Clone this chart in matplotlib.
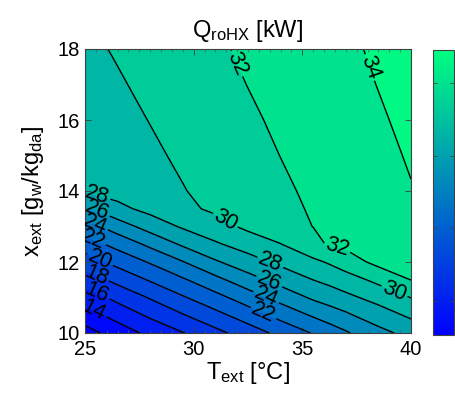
import numpy as np
import matplotlib
matplotlib.use("Agg")
import matplotlib.pyplot as plt
from matplotlib.colors import Normalize
from matplotlib.cm import ScalarMappable
from matplotlib.ticker import MultipleLocator

plt.rcParams['font.family'] = ['Liberation Sans', 'DejaVu Sans']
plt.rcParams['mathtext.default'] = 'regular'

# External temperature [°C] (columns) and humidity ratio [g_w/kg_da] (rows)
T_ext = [25, 26.5, 28, 29.5, 31, 32.5, 34, 35.5, 36.25, 37, 38.5, 40]
x_ext = [10, 11, 11.5, 12, 12.5, 13, 13.5, 14, 15, 16, 17, 18]

# Q_roHX [kW], one list per T_ext value (bottom -> top in x_ext)
Q_T25    = [11.21, 14.90, 16.94, 19.00, 21.02, 23.11, 25.62, 28.07, 28.53, 28.92, 29.28, 29.62]
Q_T26_5  = [12.90, 16.56, 18.58, 20.63, 22.65, 25.00, 27.48, 28.73, 29.12, 29.48, 29.83, 30.16]
Q_T28    = [14.51, 18.16, 20.20, 22.18, 24.45, 26.83, 28.59, 29.33, 29.70, 30.05, 30.38, 30.69]
Q_T29_5  = [15.91, 19.80, 21.76, 23.91, 26.29, 28.24, 29.55, 29.92, 30.28, 30.61, 30.93, 31.23]
Q_T31    = [17.42, 21.36, 23.45, 25.76, 27.76, 29.21, 30.35, 30.52, 30.86, 31.18, 31.48, 31.76]
Q_T32_5  = [18.96, 23.00, 25.21, 27.22, 28.83, 30.43, 30.96, 31.12, 31.44, 31.74, 32.03, 32.27]
Q_T34    = [20.55, 24.71, 26.74, 28.42, 29.94, 31.40, 31.56, 31.72, 32.02, 32.28, 32.53, 32.76]
Q_T35_5  = [22.13, 26.31, 28.02, 29.56, 31.57, 32.02, 32.16, 32.29, 32.55, 32.80, 33.03, 33.25]
Q_T36_25 = [22.96, 26.92, 28.55, 30.22, 32.16, 32.30, 32.43, 32.56, 32.82, 33.06, 33.28, 33.50]
Q_T37    = [23.76, 27.52, 29.15, 31.02, 32.44, 32.58, 32.71, 32.84, 33.08, 33.31, 33.53, 33.74]
Q_T38_5  = [25.39, 28.69, 30.50, 32.56, 33.02, 33.14, 33.26, 33.38, 33.61, 33.83, 34.04, 34.22]
Q_T40    = [26.66, 30.04, 32.04, 33.47, 33.59, 33.70, 33.82, 33.93, 34.14, 34.34, 34.53, 34.71]

Q_columns = [Q_T25, Q_T26_5, Q_T28, Q_T29_5, Q_T31, Q_T32_5, Q_T34,
             Q_T35_5, Q_T36_25, Q_T37, Q_T38_5, Q_T40]

contour_levels = [12, 14, 16, 18, 20, 22, 24, 26, 28, 30, 32, 34]
x_ticks = [25, 30, 35, 40]
y_ticks = [10, 12, 14, 16, 18]
cbar_ticks = [14, 20, 26, 32]

# where the contour labels sit (T, x)
label_spots = {
    14: [(25.37, 10.59)],
    16: [(25.55, 11.13)],
    18: [(25.46, 11.55)],
    20: [(25.69, 12.06)],
    22: [(25.37, 12.63), (33.28, 10.65)],
    24: [(25.46, 13.06), (33.42, 11.13)],
    26: [(25.55, 13.45), (33.6, 11.63)],
    28: [(25.6, 13.97), (33.6, 12.11)],
    30: [(31.3, 13.01), (39.17, 11.07)],
    32: [(32.04, 17.6), (36.6, 12.39)],
    34: [(38.02, 17.46)],
}

Z = np.array(Q_columns).T
TT, XX = np.meshgrid(T_ext, x_ext)

W, H = 455, 401
fig = plt.figure(figsize=(W / 100, H / 100), dpi=100)
ax = fig.add_axes([85 / W, (H - 333) / H, 326 / W, 284 / H])

cmap = plt.get_cmap('winter')
vmin, vmax = Z.min(), Z.max()
norm = Normalize(vmin=vmin, vmax=vmax)
fill_levels = [min(10, vmin)] + contour_levels + [max(36, vmax)]
band_colors = [cmap(norm(max(lo, vmin))) for lo in fill_levels[:-1]]

ax.contourf(TT, XX, Z, levels=fill_levels, colors=band_colors)

ax.set_xlim(25, 40)
ax.set_ylim(10, 18)

for lvl in contour_levels:
    cs = ax.contour(TT, XX, Z, levels=[lvl], colors='k', linewidths=1.0)
    spots = label_spots.get(lvl)
    if spots:
        ax.clabel(cs, manual=spots, inline=True, inline_spacing=2,
                  fontsize=15.5, fmt='%d')

ax.set_xlim(25, 40)
ax.set_ylim(10, 18)
ax.set_xticks(x_ticks)
ax.set_yticks(y_ticks)
ax.xaxis.set_minor_locator(MultipleLocator(0.5))
ax.tick_params(which='major', direction='in', top=True, right=True, length=4,
               width=0.6, labelsize=14.5, color='0.25')
ax.tick_params(axis='x', which='major', pad=5)
ax.tick_params(axis='y', which='major', pad=4)
ax.tick_params(which='minor', direction='in', top=True, bottom=True, length=2,
               width=0.5, color='0.35')
for s in ax.spines.values():
    s.set_color('0.25')
    s.set_linewidth(0.8)

ax.set_title('Q$_{roHX}$ [kW]', fontsize=17, pad=9)
ax.set_xlabel('T$_{ext}$ [°C]', fontsize=17, labelpad=1)
ax.set_ylabel('x$_{ext}$ [g$_{w}$/kg$_{da}$]', fontsize=17, labelpad=8)

cax = fig.add_axes([433 / W, (H - 335) / H, 21 / W, 285 / H])
cb = fig.colorbar(ScalarMappable(norm=norm, cmap=cmap), cax=cax)
cb.set_ticks(cbar_ticks)
cax.tick_params(direction='in', left=True, right=True, labelright=False,
                length=3, width=0.6, color='0.25')
cb.outline.set_edgecolor('0.25')
cb.outline.set_linewidth(0.8)

fig.savefig('out.png', dpi=100)
